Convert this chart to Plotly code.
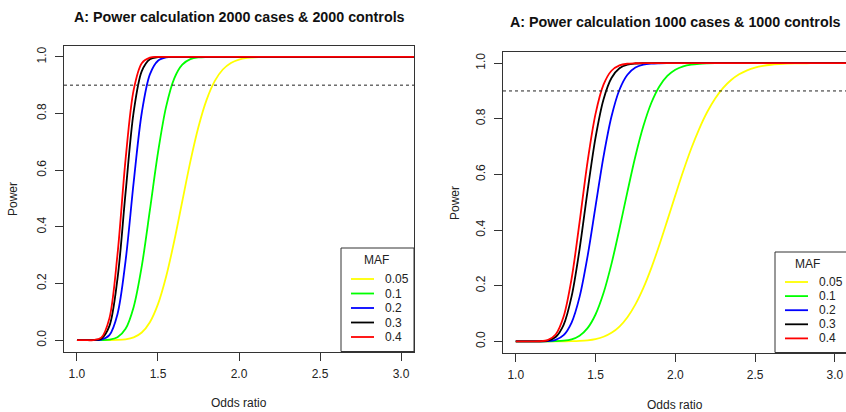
import plotly.graph_objects as go

# ---------------- data ----------------
odds_ratio = [1.00, 1.05, 1.10, 1.15, 1.20, 1.25, 1.30, 1.35, 1.40, 1.45,
              1.50, 1.55, 1.60, 1.65, 1.70, 1.75, 1.80, 1.85, 1.90, 1.95,
              2.00, 2.05, 2.10, 2.15, 2.20, 2.25, 2.30, 2.35, 2.40, 2.45,
              2.50, 2.55, 2.60, 2.65, 2.70, 2.75, 2.80, 2.85, 2.90, 2.95,
              3.00, 3.05, 3.10]

maf_labels = ["0.05", "0.1", "0.2", "0.3", "0.4"]

# 2000 cases & 2000 controls
power_2000_maf005 = [0, 0, 0, 0, 0.0002, 0.0008, 0.0031, 0.0100, 0.0272, 0.0633,
                     0.1271, 0.2239, 0.3490, 0.4904, 0.6312, 0.7533, 0.8482, 0.9142, 0.9553, 0.9786,
                     0.9905, 0.9961, 0.9985, 0.9995, 0.9998, 1, 1, 1, 1, 1,
                     1, 1, 1, 1, 1, 1, 1, 1, 1, 1,
                     1, 1, 1]
power_2000_maf010 = [0, 0, 0, 0.0002, 0.0018, 0.0100, 0.0401, 0.1174, 0.2614, 0.4586,
                     0.6620, 0.8233, 0.9232, 0.9723, 0.9917, 0.9979, 0.9996, 1, 1, 1,
                     1, 1, 1, 1, 1, 1, 1, 1, 1, 1,
                     1, 1, 1, 1, 1, 1, 1, 1, 1, 1,
                     1, 1, 1]
power_2000_maf020 = [0, 0, 0.0001, 0.0019, 0.0177, 0.0918, 0.2799, 0.5576, 0.8026, 0.9380,
                     0.9863, 0.9979, 0.9998, 1, 1, 1, 1, 1, 1, 1,
                     1, 1, 1, 1, 1, 1, 1, 1, 1, 1,
                     1, 1, 1, 1, 1, 1, 1, 1, 1, 1,
                     1, 1, 1]
power_2000_maf030 = [0, 0, 0.0003, 0.0054, 0.0494, 0.2162, 0.5207, 0.8054, 0.9498, 0.9918,
                     0.9991, 1, 1, 1, 1, 1, 1, 1, 1, 1,
                     1, 1, 1, 1, 1, 1, 1, 1, 1, 1,
                     1, 1, 1, 1, 1, 1, 1, 1, 1, 1,
                     1, 1, 1]
power_2000_maf040 = [0, 0, 0.0004, 0.0089, 0.0769, 0.3019, 0.6383, 0.8836, 0.9774, 0.9973,
                     0.9998, 1, 1, 1, 1, 1, 1, 1, 1, 1,
                     1, 1, 1, 1, 1, 1, 1, 1, 1, 1,
                     1, 1, 1, 1, 1, 1, 1, 1, 1, 1,
                     1, 1, 1]

# 1000 cases & 1000 controls
power_1000_maf005 = [0, 0, 0, 0, 0, 0, 0.0002, 0.0006, 0.0016, 0.0037,
                     0.0081, 0.0165, 0.0307, 0.0533, 0.0869, 0.1331, 0.1924, 0.2643, 0.3464, 0.4349,
                     0.5247, 0.6122, 0.6932, 0.7640, 0.8243, 0.8731, 0.9110, 0.9394, 0.9599, 0.9742,
                     0.9839, 0.9902, 0.9942, 0.9965, 0.9981, 0.9989, 0.9994, 0.9997, 0.9998, 0.9999,
                     1, 1, 1]
power_1000_maf010 = [0, 0, 0, 0, 0.0001, 0.0006, 0.0023, 0.0074, 0.0203, 0.0475,
                     0.0966, 0.1736, 0.2786, 0.4044, 0.5382, 0.6653, 0.7737, 0.8575, 0.9162, 0.9541,
                     0.9765, 0.9887, 0.9949, 0.9978, 0.9991, 0.9997, 0.9999, 1, 1, 1,
                     1, 1, 1, 1, 1, 1, 1, 1, 1, 1,
                     1, 1, 1]
power_1000_maf020 = [0, 0, 0, 0.0001, 0.0010, 0.0056, 0.0223, 0.0676, 0.1599, 0.3054,
                     0.4852, 0.6639, 0.8079, 0.9044, 0.9584, 0.9841, 0.9947, 0.9984, 0.9996, 1,
                     1, 1, 1, 1, 1, 1, 1, 1, 1, 1,
                     1, 1, 1, 1, 1, 1, 1, 1, 1, 1,
                     1, 1, 1]
power_1000_maf030 = [0, 0, 0, 0.0003, 0.0029, 0.0157, 0.0594, 0.1616, 0.3318, 0.5402,
                     0.7324, 0.8695, 0.9466, 0.9816, 0.9946, 0.9986, 0.9997, 1, 1, 1,
                     1, 1, 1, 1, 1, 1, 1, 1, 1, 1,
                     1, 1, 1, 1, 1, 1, 1, 1, 1, 1,
                     1, 1, 1]
power_1000_maf040 = [0, 0, 0, 0.0005, 0.0046, 0.0248, 0.0892, 0.2257, 0.4286, 0.6454,
                     0.8176, 0.9225, 0.9726, 0.9918, 0.9979, 0.9995, 1, 1, 1, 1,
                     1, 1, 1, 1, 1, 1, 1, 1, 1, 1,
                     1, 1, 1, 1, 1, 1, 1, 1, 1, 1,
                     1, 1, 1]

threshold = 0.9

x_ticks = [1.0, 1.5, 2.0, 2.5, 3.0]
x_ticktext = ["1.0", "1.5", "2.0", "2.5", "3.0"]
y_ticks = [0.0, 0.2, 0.4, 0.6, 0.8, 1.0]
y_ticktext = ["0.0", "0.2", "0.4", "0.6", "0.8", "1.0"]

titles = ["A: Power calculation 2000 cases & 2000 controls",
          "A: Power calculation 1000 cases & 1000 controls"]
x_title = "Odds ratio"
y_title = "Power"
legend_title = "MAF"

# ---------------- styling ----------------
W, H = 846, 412
colors = ["#FFFF00", "#00FF00", "#0000FF", "#000000", "#FF0000"]
FONT = "Liberation Sans, Arial, Helvetica, sans-serif"
AXC = "#333333"


def px(x):
    return x / W


def py(y):
    return 1 - y / H


fig = go.Figure()

left_series = [power_2000_maf005, power_2000_maf010, power_2000_maf020,
               power_2000_maf030, power_2000_maf040]
right_series = [power_1000_maf005, power_1000_maf010, power_1000_maf020,
                power_1000_maf030, power_1000_maf040]

for series, xa, ya in [(left_series, "x", "y"), (right_series, "x2", "y2")]:
    for i, s in enumerate(series):
        fig.add_trace(go.Scatter(
            x=odds_ratio, y=s, mode="lines", xaxis=xa, yaxis=ya,
            line=dict(color=colors[i], width=1.8, shape="spline", smoothing=0.9),
            showlegend=False, hoverinfo="skip"))

axis_common = dict(showgrid=False, zeroline=False, showline=True, linecolor=AXC,
                   linewidth=1, ticks="outside", ticklen=8, tickwidth=1,
                   tickcolor=AXC, automargin=False,
                   tickfont=dict(family=FONT, size=12, color="#222"))

fig.update_layout(
    width=W, height=H,
    margin=dict(l=0, r=0, t=0, b=0, autoexpand=False),
    paper_bgcolor="white", plot_bgcolor="white",
    xaxis=dict(domain=[px(64), px(414)], range=[0.92, 3.08], anchor="y",
               tickvals=x_ticks, ticktext=x_ticktext, mirror=True,
               ticklabelstandoff=3, **axis_common),
    yaxis=dict(domain=[py(351.5), py(45.5)], range=[-0.04, 1.04], anchor="x",
               tickvals=y_ticks, ticktext=y_ticktext, tickangle=-90, mirror=True,
               ticklabelstandoff=4, **axis_common),
    xaxis2=dict(domain=[px(503), 1.0], range=[0.92, 3.07], anchor="y2",
                tickvals=x_ticks, ticktext=x_ticktext, mirror=True,
                ticklabelstandoff=3, **axis_common),
    yaxis2=dict(domain=[py(352.5), py(52)], range=[-0.04, 1.04], anchor="x2",
                tickvals=y_ticks, ticktext=y_ticktext, tickangle=-90, mirror=False,
                ticklabelstandoff=4, **axis_common),
)

shapes = []
annotations = []


def note(text, x, y, size=12, xanchor="center", angle=0, color="#222"):
    annotations.append(dict(text=text, x=px(x), y=py(y), xref="paper", yref="paper",
                            xanchor=xanchor, yanchor="middle", showarrow=False,
                            textangle=angle,
                            font=dict(family=FONT, size=size, color=color)))


# threshold dashed lines
for xa, ya in [("x", "y"), ("x2", "y2")]:
    shapes.append(dict(type="line", xref=xa + " domain", yref=ya, x0=0, x1=1,
                       y0=threshold, y1=threshold,
                       line=dict(color="#222", width=1, dash="3px,3px")))

# titles
note("<b>" + titles[0] + "</b>", 239, 17, size=14.3, color="#111")
note("<b>" + titles[1] + "</b>", 675, 22, size=14.3, color="#111")

# axis titles
for cx, cy in [(239, 403), (675, 405)]:
    note(x_title, cx, cy)
for cx, cy in [(13, 199), (455, 203)]:
    note(y_title, cx, cy, angle=-90)

# legends (R style, bottom-right)
legends = [
    dict(x0=341, x1=414, y0=248, y1=351.5, tx=376, ty=260, first=279, step=14.5,
         lx0=351, lx1=374, textx=383),
    dict(x0=775, x1=850, y0=252, y1=352.5, tx=807, ty=264, first=282, step=14.1,
         lx0=785, lx1=808, textx=817),
]
for lg in legends:
    shapes.append(dict(type="rect", xref="paper", yref="paper",
                       x0=px(lg["x0"]), x1=px(lg["x1"]), y0=py(lg["y1"]), y1=py(lg["y0"]),
                       line=dict(color=AXC, width=1), fillcolor="white", layer="above"))
    note(legend_title, lg["tx"], lg["ty"])
    for i, lab in enumerate(maf_labels):
        yy = lg["first"] + i * lg["step"]
        shapes.append(dict(type="line", xref="paper", yref="paper",
                           x0=px(lg["lx0"]), x1=px(lg["lx1"]), y0=py(yy), y1=py(yy),
                           line=dict(color=colors[i], width=1.8), layer="above"))
        note(lab, lg["textx"], yy, xanchor="left")

fig.update_layout(shapes=shapes, annotations=annotations)
fig.write_html("out.html", config={"displayModeBar": False},
               post_script="document.body.style.margin='0';document.body.style.overflow='hidden';")
